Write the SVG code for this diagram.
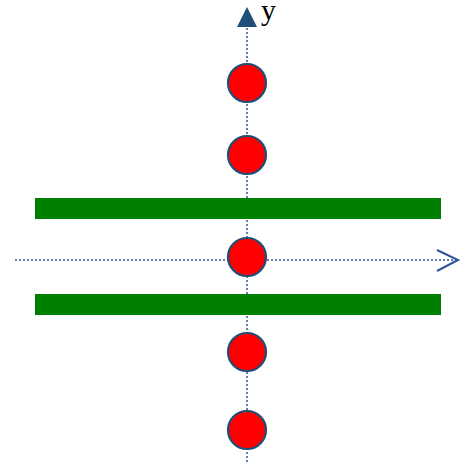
<svg xmlns="http://www.w3.org/2000/svg" width="475" height="463" viewBox="0 0 475 463">
<style>
.axis{stroke:#2F5597;stroke-width:1.5;stroke-dasharray:2 2;fill:none}
.bar{fill:#008000}
.dot{fill:#FF0000;stroke:#1F4E79;stroke-width:2.2}
</style>
<rect width="475" height="463" fill="#fff"/>
<g id="connectors">
<line class="axis" x1="247" y1="462" x2="247" y2="27"/>
<line class="axis" x1="15" y1="260" x2="457" y2="260"/>
<polygon points="247,7 237,27 257,27" fill="#1F4E79"/>
<polyline points="437,250 458,260 437,271" fill="none" stroke="#2F5597" stroke-width="2"/>
</g>
<text x="261" y="20" font-family="Liberation Serif, serif" font-size="30" fill="#000">y</text>
<g id="bar1"><rect class="bar" x="35" y="198" width="406" height="21"/></g>
<g id="bar2"><rect class="bar" x="35" y="294" width="406" height="21"/></g>
<g id="c1"><circle class="dot" cx="247" cy="83" r="19"/></g>
<g id="c2"><circle class="dot" cx="247" cy="155" r="19"/></g>
<g id="c3"><circle class="dot" cx="247" cy="257" r="19"/></g>
<g id="c4"><circle class="dot" cx="247" cy="352" r="19"/></g>
<g id="c5"><circle class="dot" cx="247" cy="430" r="19"/></g>
</svg>
